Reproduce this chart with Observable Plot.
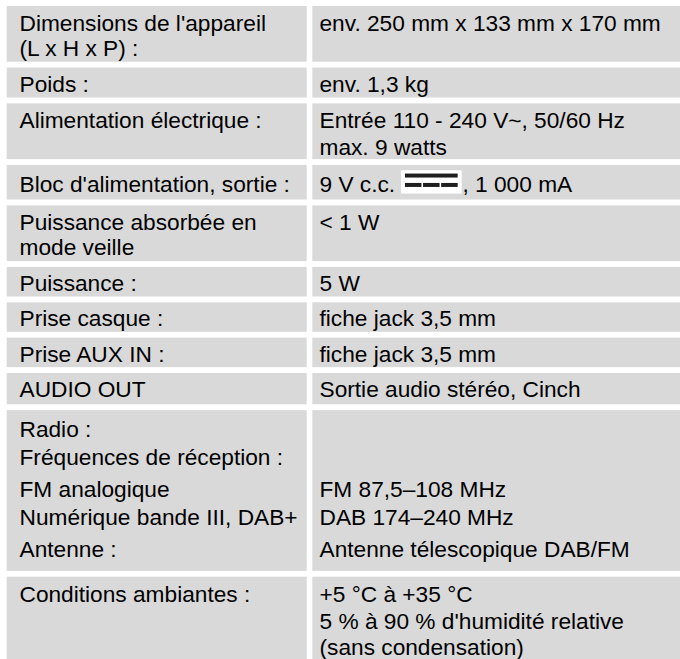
<!DOCTYPE html>
<html><head><meta charset="utf-8">
<script src="https://cdn.jsdelivr.net/npm/d3@7"></script>
<script src="https://cdn.jsdelivr.net/npm/@observablehq/plot@0.6"></script>
<style>html,body{margin:0;padding:0;background:#fff;} svg{display:block}</style>
</head><body><div id="chart"></div>
<script>
// ---- content (table texts) ----
const labels = [
  ["Dimensions de l'appareil", "(L x H x P) :"],
  ["Poids :"],
  ["Alimentation électrique :"],
  ["Bloc d'alimentation, sortie :"],
  ["Puissance absorbée en", "mode veille"],
  ["Puissance :"],
  ["Prise casque :"],
  ["Prise AUX IN :"],
  ["AUDIO OUT"],
  ["Radio :", "Fréquences de réception :", "FM analogique", "Numérique bande III, DAB+", "Antenne :"],
  ["Conditions ambiantes :"]
];
const values = [
  ["env. 250 mm x 133 mm x 170 mm"],
  ["env. 1,3 kg"],
  ["Entrée 110 - 240 V~, 50/60 Hz", "max. 9 watts"],
  [], // DC row, see dcBefore / dcAfter
  ["< 1 W"],
  ["5 W"],
  ["fiche jack 3,5 mm"],
  ["fiche jack 3,5 mm"],
  ["Sortie audio stéréo, Cinch"],
  ["", "", "FM 87,5–108 MHz", "DAB 174–240 MHz", "Antenne télescopique DAB/FM"],
  ["+5 °C à +35 °C", "5 % à 90 % d'humidité relative", "(sans condensation)"]
];
const dcRow = 3;
const dcBefore = "9 V c.c. ";
const dcAfter = ", 1 000 mA";

// ---- layout (kept apart from content) ----
const W = 680, H = 659;
const FONT = "'Liberation Sans', Arial, Helvetica, sans-serif";
const FS = 22.7;
const GAP = 5.85;
const TOP = 6;
const rowHeights = [55.7, 30, 55.7, 34.6, 55.7, 29.5, 29.5, 29.5, 31.3, 160.7, null];
const leftOffsets = [[24.5, 49.5], [24], [24], [27], [24, 49], [23.5], [23.5], [23.5], [23.5],
  [26.8, 54.5, 86.2, 114.5, 146.2], [24.3]];
const rightOffsets = [[24.5], [24], [24, 51], [27], [24], [23.5], [23.5], [23.5], [23.5],
  [26.8, 54.5, 86.2, 114.5, 146.2], [24.3, 51.3, 77.6]];
const colL = {x1: 6.7, x2: 306.7, tx: 19};
const colR = {x1: 312.3, x2: W, tx: 319};

const cells = [], lines = [], rowTops = [];
let yTop = TOP;
labels.forEach((lab, i) => {
  const h = rowHeights[i] == null ? H - yTop : rowHeights[i];
  rowTops.push(yTop);
  cells.push({x1: colL.x1, x2: colL.x2, y1: yTop, y2: yTop + h});
  cells.push({x1: colR.x1, x2: colR.x2, y1: yTop, y2: yTop + h});
  lab.forEach((t, k) => lines.push({x: colL.tx, y: yTop + leftOffsets[i][k], text: t}));
  values[i].forEach((t, k) => { if (t) lines.push({x: colR.tx, y: yTop + rightOffsets[i][k], text: t}); });
  yTop += h + GAP;
});

// DC symbol row
const dcBase = rowTops[dcRow] + rightOffsets[dcRow][0];
const ctx = document.createElement("canvas").getContext("2d");
ctx.font = `${FS}px ${FONT}`;
const wBefore = ctx.measureText(dcBefore).width;
const bx = colR.tx + wBefore;
const bw = 60.7;
lines.push({x: colR.tx, y: dcBase, text: dcBefore});
lines.push({x: bx + bw + 0.3, y: dcBase, text: dcAfter});
const dcBox = [{x1: bx, x2: bx + bw, y1: dcBase - 21.7, y2: dcBase + 1.6}];
const pad = 4, inner = bw - 2 * pad, seg = (inner - 2 * 1.6) / 3;
const dcBars = [
  {x1: bx + pad, x2: bx + pad + inner, y1: dcBase - 18.4, y2: dcBase - 14.4},
  ...[0, 1, 2].map(j => ({x1: bx + pad + j * (seg + 1.6), x2: bx + pad + j * (seg + 1.6) + seg, y1: dcBase - 9, y2: dcBase - 5}))
];

const chart = Plot.plot({
  width: W, height: H,
  margin: 0,
  x: {type: "linear", domain: [0, W], range: [0, W], axis: null},
  y: {type: "linear", domain: [0, H], range: [0, H], axis: null},
  style: {fontFamily: FONT, fontSize: FS + "px", background: "#fff", color: "#000"},
  marks: [
    Plot.rect(cells, {x1: "x1", x2: "x2", y1: "y1", y2: "y2", fill: "#d9d9d9"}),
    Plot.rect(dcBox, {x1: "x1", x2: "x2", y1: "y1", y2: "y2", fill: "#ffffff"}),
    Plot.rect(dcBars, {x1: "x1", x2: "x2", y1: "y1", y2: "y2", fill: "#1e1e1e"}),
    Plot.text(lines, {x: "x", y: "y", text: "text", textAnchor: "start", lineAnchor: "bottom",
      fontSize: FS, fontFamily: FONT, fill: "#000"})
  ]
});
document.getElementById("chart").append(chart);
</script>
</body></html>
